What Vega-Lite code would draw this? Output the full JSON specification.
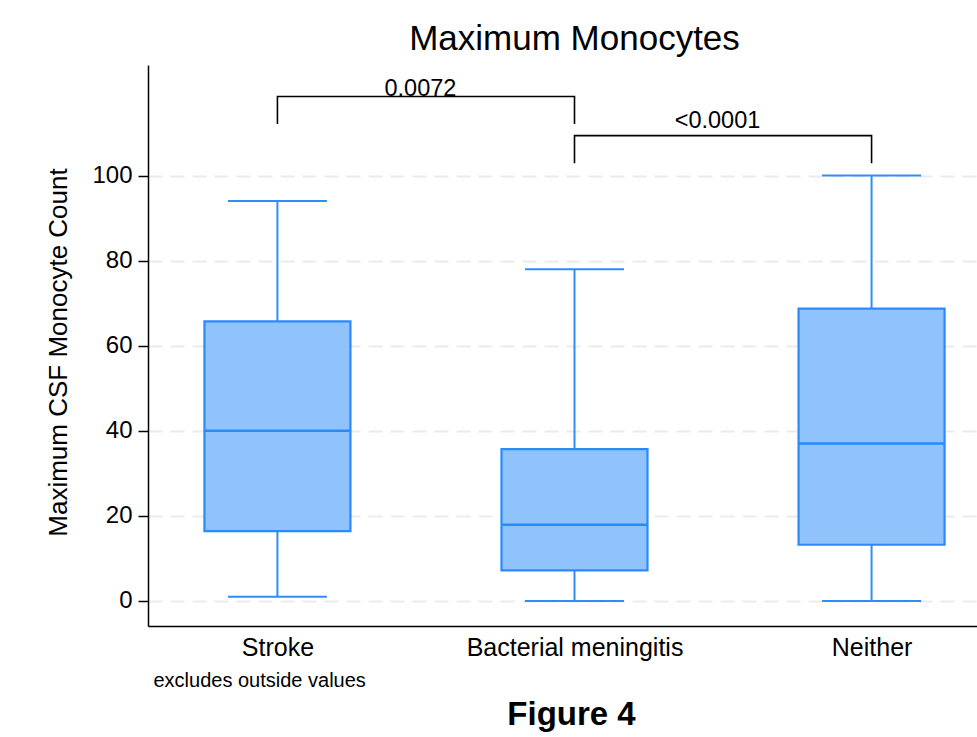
{
  "$schema": "https://vega.github.io/schema/vega-lite/v6.json",
  "width": 853,
  "height": 561,
  "autosize": {"type": "none"},
  "padding": {"left": 148, "top": 65, "right": 0, "bottom": 111},
  "background": "white",
  "config": {
    "view": {"stroke": null},
    "font": "Liberation Sans",
    "text": {"font": "Liberation Sans"}
  },
  "title": {
    "text": "Maximum Monocytes",
    "fontSize": 35,
    "fontWeight": "normal",
    "font": "Liberation Sans",
    "color": "black",
    "anchor": "middle",
    "offset": 8
  },
  "datasets": {
    "boxes": [
      {"group": "Stroke", "min": 1, "q1": 16.4, "median": 40, "q3": 65.7, "max": 94},
      {"group": "Bacterial meningitis", "min": 0, "q1": 7.2, "median": 17.9, "q3": 35.7, "max": 78},
      {"group": "Neither", "min": 0, "q1": 13.2, "median": 37, "q3": 68.7, "max": 100}
    ],
    "brackets": [
      {"pair": "a", "i": 1, "group": "Stroke", "value": 112.1},
      {"pair": "a", "i": 2, "group": "Stroke", "value": 118.6},
      {"pair": "a", "i": 3, "group": "Bacterial meningitis", "value": 118.6},
      {"pair": "a", "i": 4, "group": "Bacterial meningitis", "value": 112.1},
      {"pair": "b", "i": 1, "group": "Bacterial meningitis", "value": 102.9},
      {"pair": "b", "i": 2, "group": "Bacterial meningitis", "value": 109.4},
      {"pair": "b", "i": 3, "group": "Neither", "value": 109.4},
      {"pair": "b", "i": 4, "group": "Neither", "value": 102.9}
    ],
    "pvalues": [
      {"group": "Stroke", "value": 118.7, "label": "0.0072"},
      {"group": "Bacterial meningitis", "value": 111.1, "label": "<0.0001"}
    ],
    "caption": [
      {"group": "Bacterial meningitis", "value": -29.1, "label": "Figure 4"}
    ]
  },
  "encoding": {
    "x": {
      "field": "group",
      "type": "nominal",
      "sort": ["Stroke", "Bacterial meningitis", "Neither"],
      "scale": {"type": "point", "domain": ["Stroke", "Bacterial meningitis", "Neither"], "padding": 0.4357},
      "axis": {
        "title": "excludes outside values",
        "titleFontSize": 20,
        "titleFontWeight": "normal",
        "titleColor": "black",
        "titleAnchor": "start",
        "titleAlign": "left",
        "titleBaseline": "alphabetic",
        "titleX": 5,
        "titleY": 60,
        "labelFontSize": 25,
        "labelLimit": 500,
        "labelColor": "black",
        "labelAngle": 0,
        "labelBaseline": "alphabetic",
        "labelPadding": 29,
        "ticks": false,
        "grid": false,
        "domainColor": "black",
        "domainWidth": 1.5
      }
    }
  },
  "layer": [
    {
      "data": {"name": "boxes"},
      "mark": {"type": "rule", "color": "#2e8df7", "strokeWidth": 2},
      "encoding": {
        "y": {
          "field": "min",
          "type": "quantitative",
          "scale": {"domain": [-5.9, 126], "nice": false, "zero": false},
          "axis": {
            "title": "Maximum CSF Monocyte Count",
            "titleFontSize": 26,
            "titleFontWeight": "normal",
            "titleColor": "black",
            "titleAngle": -90,
            "titleAlign": "center",
            "titleBaseline": "middle",
            "titleX": -90,
            "titleY": 287,
            "values": [0, 20, 40, 60, 80, 100],
            "labelFontSize": 24,
            "labelColor": "black",
            "labelPadding": 6,
            "tickSize": 10,
            "tickColor": "black",
            "tickWidth": 1.5,
            "domainColor": "black",
            "domainWidth": 1.5,
            "grid": true,
            "gridColor": "#ebebeb",
            "gridWidth": 2,
            "gridDash": [14, 8]
          }
        },
        "y2": {"field": "max"}
      }
    },
    {
      "data": {"name": "boxes"},
      "mark": {"type": "bar", "size": 146, "fill": "#90c3fc", "stroke": "#2a8bf8", "strokeWidth": 2.2},
      "encoding": {
        "y": {"field": "q1", "type": "quantitative"},
        "y2": {"field": "q3"}
      }
    },
    {
      "data": {"name": "boxes"},
      "mark": {"type": "tick", "size": 147, "thickness": 2.5, "color": "#2a8bf8", "opacity": 1},
      "encoding": {
        "y": {"field": "median", "type": "quantitative"}
      }
    },
    {
      "data": {"name": "boxes"},
      "mark": {"type": "tick", "size": 99, "thickness": 2, "color": "#2e8df7", "opacity": 1},
      "encoding": {
        "y": {"field": "min", "type": "quantitative"}
      }
    },
    {
      "data": {"name": "boxes"},
      "mark": {"type": "tick", "size": 99, "thickness": 2, "color": "#2e8df7", "opacity": 1},
      "encoding": {
        "y": {"field": "max", "type": "quantitative"}
      }
    },
    {
      "data": {"name": "brackets"},
      "mark": {"type": "line", "color": "black", "strokeWidth": 1.6},
      "encoding": {
        "y": {"field": "value", "type": "quantitative"},
        "detail": {"field": "pair"},
        "order": {"field": "i", "type": "quantitative"}
      }
    },
    {
      "data": {"name": "pvalues"},
      "mark": {"type": "text", "fontSize": 23.5, "color": "black", "dx": 143, "baseline": "alphabetic", "align": "center"},
      "encoding": {
        "y": {"field": "value", "type": "quantitative"},
        "text": {"field": "label"}
      }
    },
    {
      "data": {"name": "caption"},
      "mark": {"type": "text", "fontSize": 33, "fontWeight": "bold", "color": "black", "dx": -3, "baseline": "alphabetic", "align": "center"},
      "encoding": {
        "y": {"field": "value", "type": "quantitative"},
        "text": {"field": "label"}
      }
    }
  ]
}
